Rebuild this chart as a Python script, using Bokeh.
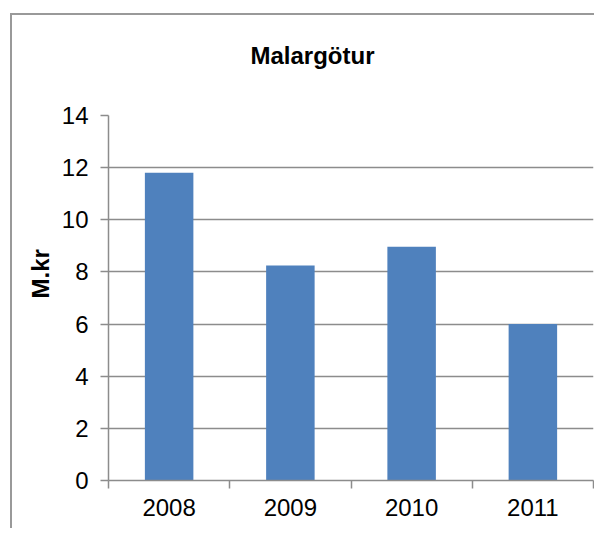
from bokeh.plotting import figure
from bokeh.models import ColumnDataSource, FixedTicker, LinearAxis, Title
from bokeh.embed import file_html
from bokeh.resources import INLINE

title_text = "Malargötur"
y_label = "M.kr"
years = ["2008", "2009", "2010", "2011"]
values = [11.8, 8.25, 8.97, 6.0]
y_ticks = [0, 2, 4, 6, 8, 10, 12, 14]

FONT = "Liberation Sans"
GRID = "#8c8c8c"
BAR = "#4f81bd"

n = len(years)
centers = [i + 0.5 for i in range(n)]
bounds = list(range(n + 1))
src = ColumnDataSource(data=dict(x=centers, year=years, value=values))

p = figure(
    x_range=(0, n),
    y_range=(0, 14),
    width=584, height=515,
    output_backend="svg", toolbar_location=None,
    x_axis_location=None,
    min_border_left=96, min_border_right=3,
    min_border_top=100, min_border_bottom=50,
)
p.margin = (13, 0, 0, 10)
p.styles = {"border-left": "2px solid #999999", "border-top": "2px solid #999999"}
p.outline_line_color = None

p.vbar(x="x", top="value", width=0.4, source=src,
       fill_color=BAR, line_color=None)

# x axis: line and category boundary ticks
xline = LinearAxis(ticker=FixedTicker(ticks=bounds),
                   major_label_overrides={b: "" for b in bounds})
xline.axis_line_color = GRID
xline.axis_line_width = 1.5
xline.major_tick_line_color = GRID
xline.major_tick_line_width = 1.5
xline.major_tick_in = 0
xline.major_tick_out = 8
xline.minor_tick_line_color = None
xline.major_label_standoff = 0
p.add_layout(xline, "below")

# x axis: category labels
xcat = LinearAxis(ticker=FixedTicker(ticks=centers),
                  major_label_overrides={c: y for c, y in zip(centers, years)})
xcat.axis_line_color = None
xcat.major_tick_line_color = None
xcat.minor_tick_line_color = None
xcat.major_label_text_font = FONT
xcat.major_label_text_font_size = "24px"
xcat.major_label_text_color = "black"
xcat.major_label_standoff = 4
p.add_layout(xcat, "below")

yax = p.yaxis[0]
yax.ticker = FixedTicker(ticks=y_ticks)
yax.axis_line_color = GRID
yax.axis_line_width = 1.5
yax.major_tick_line_color = GRID
yax.major_tick_line_width = 1.5
yax.minor_tick_line_color = None
yax.major_tick_out = 8
yax.major_tick_in = 0
yax.major_label_standoff = 12
yax.major_label_text_font = FONT
yax.major_label_text_font_size = "24px"
yax.major_label_text_color = "black"

p.xgrid.grid_line_color = None
p.ygrid.ticker = FixedTicker(ticks=y_ticks)
p.ygrid.grid_line_color = GRID
p.ygrid.grid_line_width = 1.5

# trailing newline lifts the title line higher above the plot area
p.title.text = title_text + "\n"
p.title.align = "left"
p.title.offset = 142
p.title.standoff = 40
p.title.text_font = FONT
p.title.text_font_style = "bold"
p.title.text_font_size = "24px"
p.title.text_color = "black"

p.add_layout(Title(text=y_label, align="left", offset=182, standoff=9,
                   text_font=FONT, text_font_style="bold",
                   text_font_size="24px", text_color="black"), "left")

open("out.html", "w").write(file_html(p, INLINE))
